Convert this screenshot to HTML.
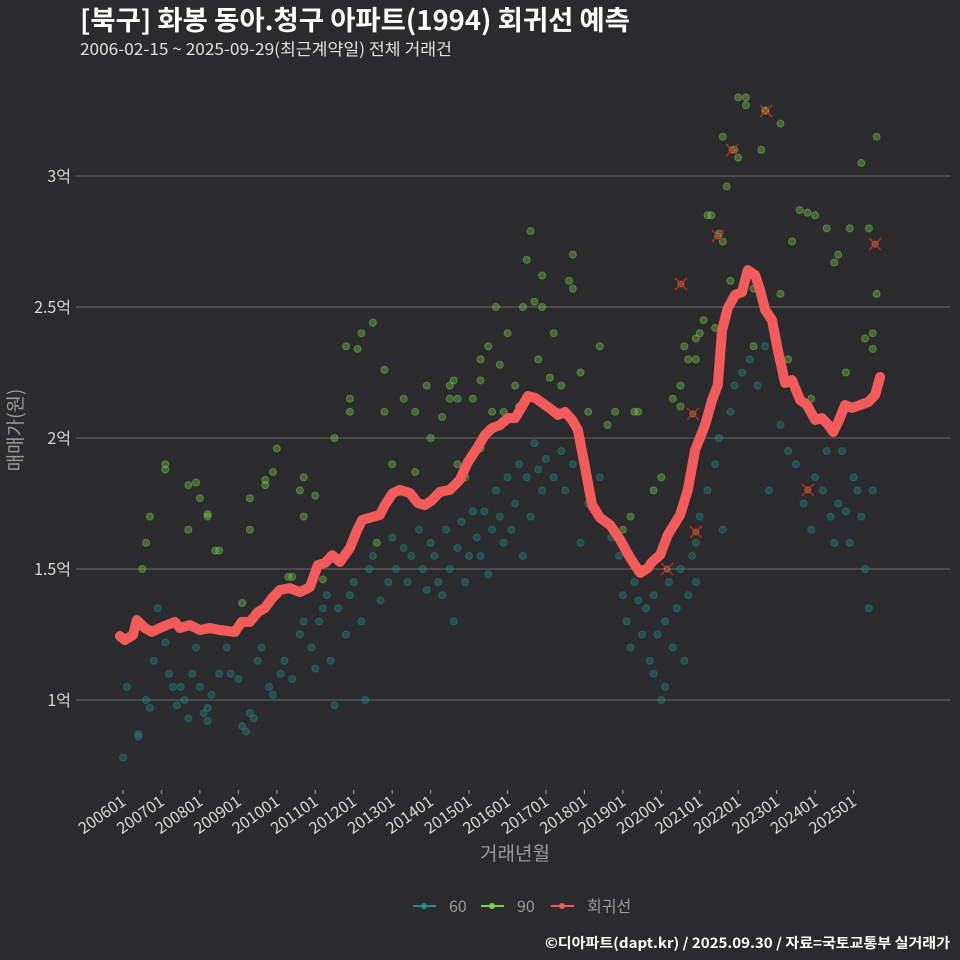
<!DOCTYPE html>
<html><head><meta charset="utf-8"><style>
body{margin:0;background:#2b2b2d;}
svg{display:block;font-family:"Noto Sans CJK KR","Liberation Sans",sans-serif;}
</style></head><body>
<svg id="chart" width="960" height="960">
<rect width="960" height="960" fill="#2b2b2d"/>
<text x="80" y="30" fill="#ffffff" font-size="27" font-weight="bold" textLength="550" lengthAdjust="spacingAndGlyphs">[북구] 화봉 동아.청구 아파트(1994) 회귀선 예측</text>
<text x="80" y="55" fill="#e0e0e0" font-size="16.5" textLength="372" lengthAdjust="spacingAndGlyphs">2006-02-15 ~ 2025-09-29(최근계약일) 전체 거래건</text>
<g id="grid"></g><g id="pts"></g><g id="line"></g><g id="outl"></g><g id="xax"></g>
<text transform="translate(22,430) rotate(-90)" text-anchor="middle" fill="#9a9a9a" font-size="19">매매가(원)</text>
<text x="515" y="860" text-anchor="middle" fill="#9a9a9a" font-size="19">거래년월</text>
<g>
<g><line x1="413" y1="906" x2="436" y2="906" stroke="#21908c" stroke-width="2"/><circle cx="424" cy="906" r="3" fill="#21908c"/><text x="449" y="912" fill="#9a9a9a" font-size="16">60</text></g>
<g><line x1="481" y1="906" x2="504" y2="906" stroke="#7ad151" stroke-width="2"/><circle cx="492" cy="906" r="3" fill="#7ad151"/><text x="517" y="912" fill="#9a9a9a" font-size="16">90</text></g>
<g><line x1="551" y1="906" x2="574" y2="906" stroke="#f35b5b" stroke-width="2"/><circle cx="562" cy="906" r="3" fill="#f35b5b"/><text x="587" y="912" fill="#9a9a9a" font-size="16">회귀선</text></g>
</g>
<text x="950" y="948" text-anchor="end" fill="#ffffff" font-size="14" font-weight="bold" textLength="405" lengthAdjust="spacingAndGlyphs">©디아파트(dapt.kr) / 2025.09.30 / 자료=국토교통부 실거래가</text>
</svg>
<script>
const yTicks=[1,1.5,2,2.5,3];
const yTickLabels=["1억","1.5억","2억","2.5억","3억"];
const xTickYears=[2006,2007,2008,2009,2010,2011,2012,2013,2014,2015,2016,2017,2018,2019,2020,2021,2022,2023,2024,2025];
const xTickLabels=["200601","200701","200801","200901","201001","201101","201201","201301","201401","201501","201601","201701","201801","201901","202001","202101","202201","202301","202401","202501"];
const lineT=[2005.92,2006.05,2006.26,2006.36,2006.57,2006.75,2006.96,2007.14,2007.35,2007.48,2007.74,2008.0,2008.26,2008.52,2008.91,2009.09,2009.3,2009.51,2009.69,2009.88,2010.08,2010.34,2010.6,2010.86,2011.07,2011.25,2011.44,2011.64,2011.9,2012.09,2012.22,2012.48,2012.68,2012.81,2013.02,2013.2,2013.46,2013.67,2013.85,2014.04,2014.24,2014.5,2014.76,2014.97,2015.23,2015.41,2015.6,2015.81,2016.01,2016.2,2016.4,2016.53,2016.72,2016.98,2017.16,2017.31,2017.5,2017.68,2017.83,2018.02,2018.2,2018.41,2018.67,2018.93,2019.19,2019.45,2019.65,2019.76,2019.97,2020.17,2020.49,2020.69,2020.88,2021.14,2021.32,2021.47,2021.58,2021.73,2021.92,2022.1,2022.25,2022.44,2022.57,2022.7,2022.88,2023.03,2023.22,2023.4,2023.61,2023.79,2024.0,2024.18,2024.34,2024.47,2024.6,2024.78,2024.96,2025.17,2025.38,2025.56,2025.69];
const lineV=[1.244,1.229,1.248,1.305,1.275,1.26,1.275,1.286,1.298,1.275,1.286,1.267,1.275,1.267,1.26,1.298,1.298,1.336,1.351,1.389,1.42,1.427,1.412,1.431,1.515,1.523,1.553,1.527,1.58,1.649,1.687,1.698,1.706,1.744,1.79,1.802,1.79,1.752,1.744,1.763,1.794,1.802,1.84,1.908,1.966,2.011,2.038,2.05,2.076,2.076,2.126,2.16,2.153,2.126,2.107,2.088,2.099,2.069,2.031,1.885,1.744,1.695,1.668,1.611,1.542,1.485,1.504,1.527,1.553,1.63,1.706,1.802,1.954,2.05,2.145,2.202,2.412,2.496,2.546,2.557,2.641,2.622,2.565,2.489,2.45,2.336,2.21,2.221,2.145,2.126,2.069,2.076,2.05,2.023,2.061,2.126,2.115,2.126,2.137,2.164,2.233];
const s90T=[2006.6,2006.7,2006.5,2007.1,2007.1,2007.7,2007.9,2008.0,2008.2,2008.2,2008.4,2008.5,2007.7,2009.3,2009.3,2009.1,2009.7,2009.7,2009.9,2010.0,2010.3,2010.4,2010.6,2010.7,2010.7,2011.0,2011.2,2011.5,2011.8,2011.9,2011.9,2012.1,2012.2,2012.5,2012.6,2012.8,2012.8,2013.0,2013.3,2013.6,2013.6,2013.9,2014.0,2014.3,2014.5,2014.5,2014.6,2014.7,2014.7,2014.9,2015.1,2015.3,2015.3,2015.3,2015.5,2015.6,2015.7,2015.8,2015.9,2016.0,2016.2,2016.3,2016.4,2016.5,2016.6,2016.7,2016.8,2016.9,2016.9,2017.1,2017.2,2017.3,2017.4,2017.6,2017.7,2017.7,2017.9,2018.1,2018.4,2018.6,2018.8,2019.0,2019.2,2019.3,2019.4,2019.5,2019.8,2020.0,2020.3,2020.5,2020.5,2020.6,2020.7,2020.9,2020.9,2021.0,2021.1,2021.2,2021.3,2021.4,2021.5,2021.6,2021.6,2021.7,2021.8,2021.9,2022.0,2022.0,2022.2,2022.2,2022.4,2022.4,2022.6,2022.7,2023.1,2023.1,2023.4,2023.6,2023.8,2024.0,2024.3,2024.6,2024.5,2024.9,2025.2,2025.4,2025.5,2025.6,2025.6,2025.5,2025.3,2024.8,2023.9,2023.3];
const s90V=[1.6,1.7,1.5,1.9,1.88,1.82,1.83,1.77,1.71,1.7,1.57,1.57,1.65,1.77,1.65,1.37,1.84,1.82,1.87,1.96,1.47,1.47,1.8,1.85,1.7,1.78,1.46,2.0,2.35,2.15,2.1,2.34,2.4,2.44,1.6,2.26,2.1,1.9,2.15,1.87,2.1,2.2,2.0,2.08,2.2,2.15,2.22,1.9,2.15,1.85,2.15,2.22,2.3,1.96,2.35,2.1,2.5,2.28,2.1,2.4,2.2,2.12,2.5,2.68,2.79,2.52,2.3,2.62,2.5,2.23,2.4,2.1,2.2,2.6,2.7,2.57,2.25,2.1,2.35,2.05,2.1,1.65,1.7,2.1,2.1,1.5,1.8,1.85,2.15,2.12,2.2,2.35,2.3,2.3,2.38,2.4,2.45,2.85,2.85,2.42,2.78,2.75,3.15,2.96,2.6,3.1,3.07,3.3,3.3,3.27,2.57,2.35,3.1,3.25,3.2,2.55,2.75,2.87,2.86,2.85,2.8,2.7,2.67,2.8,3.05,2.8,2.4,3.15,2.55,2.34,2.38,2.25,2.15,2.3];
const s60T=[2006.0,2006.1,2006.4,2006.4,2006.6,2006.7,2006.8,2006.9,2007.1,2007.2,2007.3,2007.4,2007.5,2007.6,2007.7,2007.8,2007.9,2008.0,2008.1,2008.2,2008.2,2008.3,2008.5,2008.7,2008.8,2009.0,2009.1,2009.2,2009.3,2009.4,2009.5,2009.6,2009.8,2009.9,2010.1,2010.2,2010.4,2010.6,2010.7,2010.9,2011.0,2011.1,2011.2,2011.3,2011.4,2011.5,2011.6,2011.8,2011.9,2012.0,2012.2,2012.3,2012.4,2012.5,2012.7,2012.9,2013.0,2013.1,2013.3,2013.4,2013.5,2013.7,2013.8,2013.9,2014.0,2014.1,2014.2,2014.3,2014.4,2014.5,2014.6,2014.7,2014.8,2014.9,2015.0,2015.1,2015.2,2015.3,2015.4,2015.5,2015.6,2015.7,2015.8,2015.9,2016.0,2016.1,2016.2,2016.3,2016.4,2016.5,2016.6,2016.7,2016.8,2016.9,2017.0,2017.2,2017.4,2017.5,2017.7,2017.9,2018.1,2018.4,2018.7,2018.9,2019.0,2019.1,2019.2,2019.3,2019.4,2019.5,2019.6,2019.7,2019.8,2019.8,2019.9,2020.0,2020.1,2020.1,2020.2,2020.3,2020.4,2020.5,2020.6,2020.7,2020.8,2020.9,2020.9,2021.0,2021.2,2021.4,2021.5,2021.6,2021.8,2021.9,2022.1,2022.3,2022.5,2022.7,2022.8,2023.1,2023.3,2023.5,2023.7,2023.9,2024.0,2024.2,2024.4,2024.5,2024.6,2024.7,2024.8,2024.9,2025.0,2025.1,2025.3,2025.4,2025.5,2025.2,2024.3];
const s60V=[0.78,1.05,0.86,0.87,1.0,0.97,1.15,1.35,1.22,1.1,1.05,0.98,1.05,1.0,0.93,1.1,1.2,1.05,0.95,0.92,0.97,1.02,1.1,1.2,1.1,1.08,0.9,0.88,0.95,0.93,1.15,1.2,1.05,1.02,1.1,1.15,1.08,1.25,1.3,1.2,1.12,1.3,1.35,1.4,1.15,0.98,1.35,1.25,1.4,1.45,1.3,1.0,1.5,1.55,1.38,1.45,1.62,1.5,1.58,1.45,1.55,1.65,1.5,1.42,1.6,1.55,1.45,1.4,1.65,1.5,1.3,1.58,1.68,1.45,1.55,1.72,1.62,1.55,1.72,1.48,1.65,1.8,1.7,1.6,1.85,1.65,1.75,1.9,1.55,1.85,1.7,1.98,1.88,1.8,1.92,1.85,1.95,1.8,1.9,1.6,1.75,1.85,1.62,1.55,1.4,1.3,1.2,1.45,1.38,1.25,1.35,1.15,1.4,1.1,1.25,1.0,1.05,1.3,1.45,1.2,1.35,1.5,1.15,1.4,1.55,1.6,1.45,1.7,1.8,1.9,2.0,1.65,2.1,2.2,2.25,2.3,2.2,2.35,1.8,2.05,1.95,1.9,1.75,1.65,1.85,1.8,1.7,1.6,1.75,1.95,1.72,1.6,1.85,1.8,1.5,1.35,1.8,1.7,1.95];
const outT=[2020.51,2020.82,2020.9,2020.15,2021.47,2021.84,2022.72,2023.81,2025.56];
const outV=[2.588,2.092,1.641,1.5,2.771,3.099,3.248,1.802,2.74];

const NS="http://www.w3.org/2000/svg";
function X(t){return 123+(t-2006)*38.45;}
function Y(v){return 700-(v-1)*262;}
function mk(tag,attrs,parent){const e=document.createElementNS(NS,tag);for(const k in attrs)e.setAttribute(k,attrs[k]);parent.appendChild(e);return e;}
const grid=document.getElementById('grid');
yTicks.forEach((v,i)=>{
  const l=mk('line',{x1:76,x2:950,y1:Y(v),y2:Y(v),stroke:'#6a6a6a','stroke-width':1},grid);
  
  
  const t=mk('text',{x:71,y:Y(v)+6,'text-anchor':'end',fill:'#d8d8d8','font-size':16},grid);
  t.textContent=yTickLabels[i];
  
  
});
const xax=document.getElementById('xax');
xTickYears.forEach((yr,i)=>{
  const x=X(yr);
  const tk=mk('line',{x1:x,x2:x,y1:790,y2:794,stroke:'#aaaaaa'},xax);
  
  
  const t=mk('text',{transform:`translate(${x+4},${804}) rotate(-35)`,'text-anchor':'end',fill:'#d8d8d8','font-size':16},xax);
  t.textContent=xTickLabels[i];
  
  
});
const pts=document.getElementById('pts');
s60T.forEach((t,i)=>{
  const c=mk('circle',{cx:X(t),cy:Y(s60V[i]),r:3.5,fill:'#21908c','fill-opacity':0.35,stroke:'#21908c','stroke-opacity':0.45},pts);
  
  
});
s90T.forEach((t,i)=>{
  const c=mk('circle',{cx:X(t),cy:Y(s90V[i]),r:3.5,fill:'#7ad151','fill-opacity':0.35,stroke:'#7ad151','stroke-opacity':0.45},pts);
  
  
});
const d=lineT.map((t,i)=>(i?'L':'M')+X(t).toFixed(1)+','+Y(lineV[i]).toFixed(1)).join('');
const p=mk('path',{d:d,fill:'none',stroke:'#f35b5b','stroke-width':10,'stroke-linejoin':'round','stroke-linecap':'round'},document.getElementById('line'));


const outl=document.getElementById('outl');
outT.forEach((t,i)=>{
  const x=X(t),y=Y(outV[i]);
  const g=mk('g',{},outl);
  
  
  mk('circle',{cx:x,cy:y,r:3.5,fill:'#7ad151','fill-opacity':0.5},g);
  mk('path',{d:`M${x-6},${y-6}L${x+6},${y+6}M${x+6},${y-6}L${x-6},${y+6}`,stroke:'#cc2222','stroke-width':1.5},g);
});
</script>
</body></html>
